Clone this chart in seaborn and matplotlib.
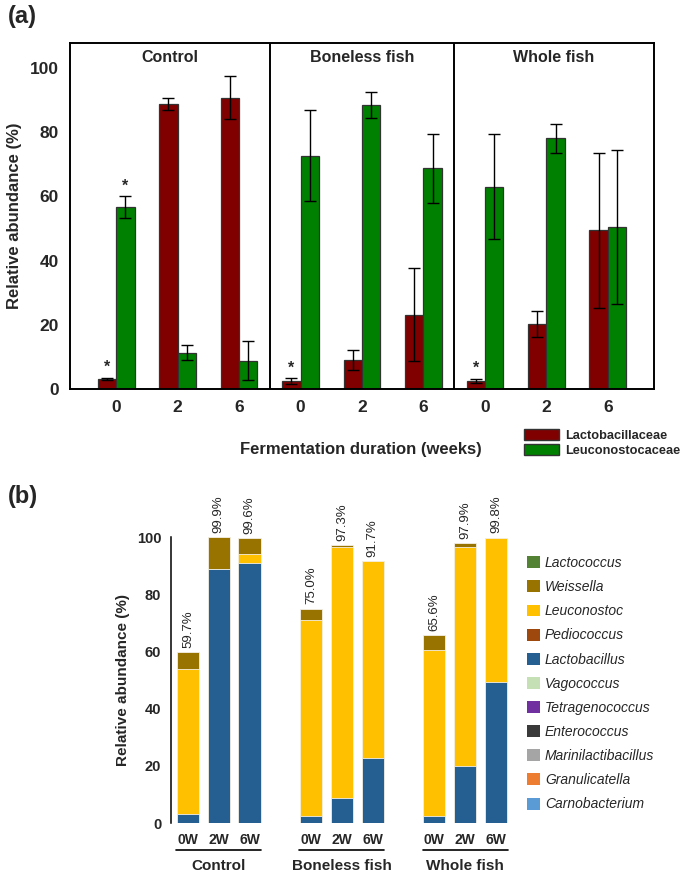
import numpy as np
import pandas as pd
import matplotlib
matplotlib.use("Agg")
import matplotlib.pyplot as plt
import seaborn as sns
from matplotlib.patches import Patch
import matplotlib.transforms as mtransforms

# ---- data: panel (a), family level ----
groups = ["Control", "Boneless fish", "Whole fish"]
weeks = ["0", "2", "6"]
lacto_fam = [3.2, 88.8, 90.8, 2.5, 9.0, 23.1, 2.5, 20.2, 49.4]
lacto_fam_err = [0.3, 2.0, 6.6, 0.8, 3.1, 14.5, 0.7, 4.0, 24.2]
leuco_fam = [56.7, 11.3, 8.8, 72.7, 88.4, 68.7, 63.0, 78.1, 50.5]
leuco_fam_err = [3.3, 2.3, 6.1, 14.2, 4.0, 10.6, 16.4, 4.6, 24.1]
star_lacto = [0, 3, 6]   # bars marked with *
star_leuco = [0]

# ---- data: panel (b), genus level ----
sample_labels = ["0W", "2W", "6W"] * 3
genera = ["Lactococcus", "Weissella", "Leuconostoc", "Pediococcus", "Lactobacillus",
          "Vagococcus", "Tetragenococcus", "Enterococcus", "Marinilactibacillus",
          "Granulicatella", "Carnobacterium"]
genus_colors = ["#548235", "#997300", "#FFC000", "#9E480E", "#255E91",
                "#C5E0B4", "#7030A0", "#3A3A3A", "#A5A5A5", "#ED7D31", "#5B9BD5"]
genus_values = {
    "Lactobacillus": [3.0, 88.8, 90.9, 2.4, 8.7, 22.8, 2.3, 19.8, 49.3],
    "Leuconostoc": [50.8, 0.0, 3.3, 68.6, 87.7, 68.9, 58.3, 76.6, 50.4],
    "Weissella": [5.9, 11.1, 5.4, 4.0, 0.9, 0.0, 5.0, 1.5, 0.1],
}

sns.set_style("white")
plt.rcParams["font.family"] = ["Liberation Sans", "DejaVu Sans"]

fig = plt.figure(figsize=(6.85, 8.72), dpi=100)
W, H = 685, 872

# ================= panel (a) =================
ax1 = fig.add_axes([70 / W, 1 - 389 / H, 584 / W, 346 / H])
pos = list(range(9))
df_a = pd.DataFrame({
    "pos": pos * 2,
    "value": lacto_fam + leuco_fam,
    "family": ["Lactobacillaceae"] * 9 + ["Leuconostocaceae"] * 9,
})
sns.barplot(data=df_a, x="pos", y="value", hue="family", ax=ax1,
            palette=["#800000", "#008000"], width=0.6, errorbar=None,
            edgecolor="#333333", linewidth=0.9, saturation=1)
ax1.get_legend().remove()

xa = np.array(pos)
ax1.errorbar(xa - 0.15, lacto_fam, yerr=lacto_fam_err, fmt="none",
             ecolor="black", elinewidth=1, capsize=4.5, capthick=1)
ax1.errorbar(xa + 0.15, leuco_fam, yerr=leuco_fam_err, fmt="none",
             ecolor="black", elinewidth=1, capsize=4.5, capthick=1)

for i in star_lacto:
    ax1.text(i - 0.15, lacto_fam[i] + lacto_fam_err[i] + 3.2, "*", ha="center",
             va="center", fontsize=11.5, fontweight="bold")
for i in star_leuco:
    ax1.text(i + 0.15, leuco_fam[i] + leuco_fam_err[i] + 3.2, "*", ha="center",
             va="center", fontsize=11.5, fontweight="bold")

ax1.set_xlim(-0.75, 8.75)
ax1.set_ylim(0, 107.8)
ax1.axvline(2.5, color="black", lw=1.4)
ax1.axvline(5.5, color="black", lw=1.4)
for cx, name in zip([0.875, 4.0, 7.125], groups):
    ax1.text(cx, 103.2, name, ha="center", va="center", fontsize=11.5, fontweight="bold")

ax1.set_xticks(pos)
ax1.set_xticklabels(weeks * 3)
ax1.set_yticks([0, 20, 40, 60, 80, 100])
ax1.tick_params(axis="both", direction="out", length=4, width=1.2, color="black",
                labelsize=12.5, pad=4)
for lab in ax1.get_xticklabels() + ax1.get_yticklabels():
    lab.set_fontweight("bold")
for s in ax1.spines.values():
    s.set_linewidth(1.4)
    s.set_color("black")
ax1.set_xlabel("")
ax1.set_ylabel("Relative abundance (%)", fontsize=12, fontweight="bold", labelpad=6)

fig.text(361 / W, 1 - 449 / H, "Fermentation duration (weeks)", ha="center",
         va="center", fontsize=12, fontweight="bold")
fig.legend(handles=[Patch(facecolor="#800000", edgecolor="#333333", label="Lactobacillaceae"),
                    Patch(facecolor="#008000", edgecolor="#333333", label="Leuconostocaceae")],
           loc="upper left", bbox_to_anchor=(524 / W, 1 - 429 / H), frameon=False,
           prop={"weight": "bold", "size": 9.2}, handlelength=2.7, handleheight=0.95,
           labelspacing=0.15, handletextpad=0.55, borderpad=0, borderaxespad=0)

fig.text(8 / W, 1 - 17 / H, "(a)", ha="left", va="center", fontsize=17, fontweight="bold")

# ================= panel (b) =================
ax2 = fig.add_axes([171 / W, 1 - 823 / H, 340.4 / W, 286 / H])
xb = [0, 1, 2, 4, 5, 6, 8, 9, 10]

# stack from the bottom of the legend upwards; draw cumulative bars top first
stack_order = genera[::-1]
cum = np.zeros(9)
cum_tops = []
for g in stack_order:
    vals = np.array(genus_values.get(g, [0.0] * 9))
    cum = cum + vals
    if vals.sum() > 0:
        cum_tops.append((g, cum.copy()))
for g, top in cum_tops[::-1]:
    sns.barplot(x=xb, y=top, native_scale=True, ax=ax2, width=0.72,
                color=genus_colors[genera.index(g)], saturation=1, errorbar=None,
                edgecolor="#f4f0e6", linewidth=0.6)

totals = cum
for x, t in zip(xb, totals):
    ax2.annotate(f"{t:.1f}%", (x, t), xytext=(0, 3), textcoords="offset points",
                 rotation=90, ha="center", va="bottom", fontsize=9.5)

ax2.set_xlim(-0.55, 10.5)
ax2.set_ylim(0, 100)
ax2.set_yticks([0, 20, 40, 60, 80, 100])
ax2.set_xticks(xb)
ax2.set_xticklabels(sample_labels)
ax2.tick_params(axis="y", direction="out", length=4, width=1.1, color="black",
                labelsize=10.5, pad=3)
ax2.tick_params(axis="x", length=0, labelsize=10, pad=7)
for lab in ax2.get_xticklabels() + ax2.get_yticklabels():
    lab.set_fontweight("bold")
for side in ["top", "right", "bottom"]:
    ax2.spines[side].set_visible(False)
ax2.spines["left"].set_linewidth(1.1)
ax2.spines["left"].set_color("black")
ax2.set_ylabel("Relative abundance (%)", fontsize=11, fontweight="bold", labelpad=5)

trans = mtransforms.blended_transform_factory(ax2.transData, ax2.transAxes)
for g0, name in zip([0, 4, 8], groups):
    ax2.plot([g0 - 0.38, g0 + 2.38], [-0.094, -0.094], color="black", lw=1.2,
             transform=trans, clip_on=False)
    ax2.text(g0 + 1, -0.152, name, transform=trans, ha="center", va="center",
             fontsize=11, fontweight="bold")

fig.legend(handles=[Patch(facecolor=c, edgecolor="none", label=g)
                    for g, c in zip(genera, genus_colors)],
           loc="upper left", bbox_to_anchor=(527 / W, 1 - 556 / H), frameon=False,
           prop={"style": "italic", "size": 10}, handlelength=0.95, handleheight=0.95,
           labelspacing=0.73, handletextpad=0.35, borderpad=0, borderaxespad=0)

fig.text(8 / W, 1 - 496 / H, "(b)", ha="left", va="center", fontsize=17, fontweight="bold")

fig.savefig("out.png", dpi=100)
